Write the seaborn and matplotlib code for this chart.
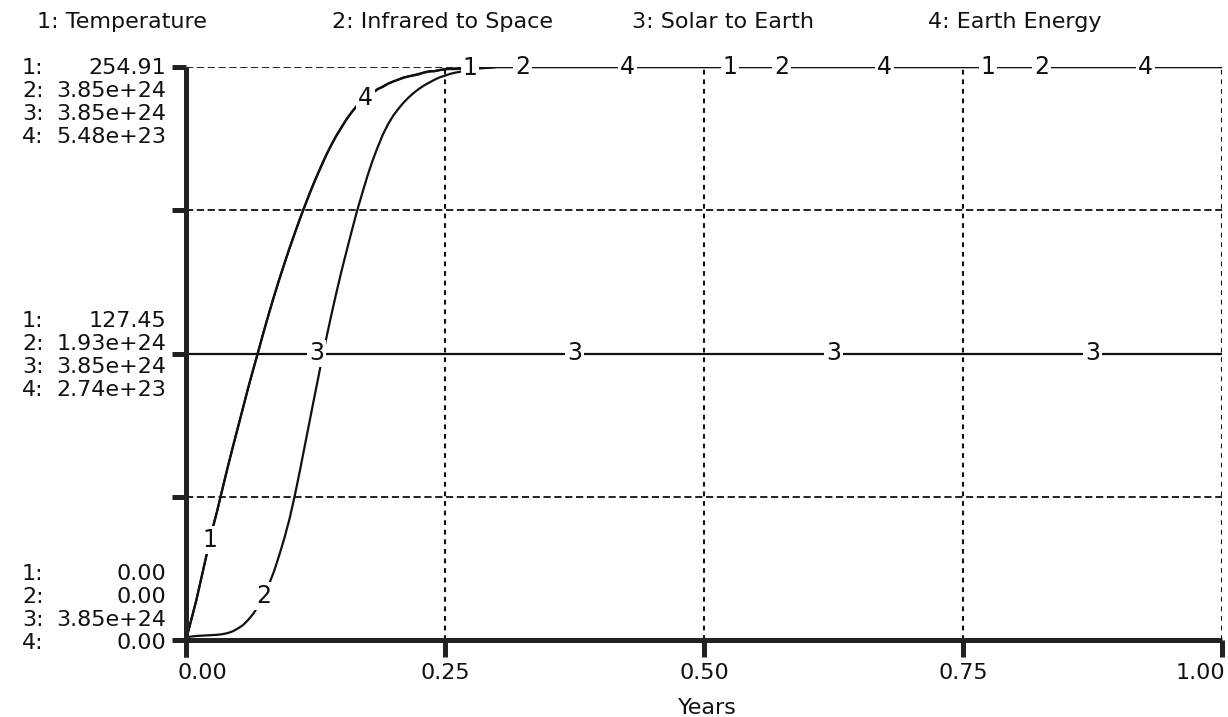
import numpy as np
import pandas as pd
import matplotlib.pyplot as plt
import seaborn as sns

# simulation output (time in years)
years = [0.000, 0.005, 0.010, 0.015, 0.020, 0.025, 0.030, 0.035, 0.040, 0.045,
         0.050, 0.055, 0.060, 0.065, 0.070, 0.075, 0.080, 0.085, 0.090, 0.095,
         0.100, 0.105, 0.110, 0.115, 0.120, 0.125, 0.130, 0.135, 0.140, 0.145,
         0.150, 0.155, 0.160, 0.165, 0.170, 0.175, 0.180, 0.185, 0.190, 0.195,
         0.200, 0.205, 0.210, 0.215, 0.220, 0.225, 0.230, 0.235, 0.240, 0.245,
         0.250, 0.255, 0.260, 0.280, 0.300, 0.500, 0.750, 1.000]
temperature = [0.0, 8.9, 17.8, 28.0, 38.2, 48.4, 57.4, 66.8, 76.5, 85.4,
               94.3, 103.2, 112.2, 120.6, 128.7, 137.1, 145.3, 152.9, 160.3, 167.5,
               174.4, 181.0, 187.4, 193.5, 199.3, 204.9, 210.3, 215.4, 220.0, 224.3,
               228.1, 231.7, 234.8, 237.6, 239.9, 241.9, 243.4, 245.0, 246.2, 247.5,
               248.5, 249.3, 250.1, 250.8, 251.3, 251.9, 252.4, 252.9, 253.1, 253.6,
               253.9, 254.1, 254.3, 254.7, 254.91, 254.91, 254.91, 254.91]
infrared_e24 = [0.019, 0.023, 0.027, 0.029, 0.031, 0.033, 0.035, 0.039, 0.046, 0.058,
                0.077, 0.100, 0.135, 0.177, 0.231, 0.296, 0.373, 0.462, 0.570, 0.685,
                0.816, 0.970, 1.140, 1.317, 1.494, 1.671, 1.844, 2.014, 2.175, 2.329,
                2.476, 2.614, 2.749, 2.880, 2.999, 3.115, 3.219, 3.311, 3.396, 3.465,
                3.523, 3.569, 3.611, 3.646, 3.677, 3.704, 3.727, 3.746, 3.765, 3.781,
                3.792, 3.804, 3.812, 3.838, 3.85, 3.85, 3.85, 3.85]
solar_e24 = [3.85] * len(years)
energy_e23 = [0.00, 0.19, 0.38, 0.60, 0.82, 1.04, 1.23, 1.44, 1.64, 1.84,
              2.03, 2.22, 2.41, 2.59, 2.77, 2.95, 3.12, 3.29, 3.45, 3.60,
              3.75, 3.89, 4.03, 4.16, 4.29, 4.41, 4.52, 4.63, 4.73, 4.82,
              4.90, 4.98, 5.05, 5.11, 5.16, 5.20, 5.23, 5.27, 5.29, 5.32,
              5.34, 5.36, 5.38, 5.39, 5.40, 5.41, 5.43, 5.44, 5.44, 5.45,
              5.46, 5.46, 5.46, 5.47, 5.48, 5.48, 5.48, 5.48]

names = ["Temperature", "Infrared to Space", "Solar to Earth", "Earth Energy"]
scale_min = [0.0, 0.0, 3.85e24, 0.0]
scale_max = [254.91, 3.85e24, 3.85e24, 5.48e23]
labels_top = ["254.91", "3.85e+24", "3.85e+24", "5.48e+23"]
labels_mid = ["127.45", "1.93e+24", "3.85e+24", "2.74e+23"]
labels_bot = ["0.00", "0.00", "3.85e+24", "0.00"]
xticks = [0.0, 0.25, 0.5, 0.75, 1.0]
xticklabels = ["0.00", "0.25", "0.50", "0.75", "1.00"]
# where the series numbers sit along each line
label_times = [[0.023, 0.274, 0.525, 0.774],
               [0.075, 0.325, 0.575, 0.826],
               [0.126, 0.375, 0.625, 0.875],
               [0.173, 0.426, 0.674, 0.926]]

series = [np.array(temperature), np.array(infrared_e24) * 1e24,
          np.array(solar_e24) * 1e24, np.array(energy_e23) * 1e23]

sns.set_style("white")
plt.rcParams["font.family"] = ["DejaVu Sans"]
W, H = 1228, 717
fig = plt.figure(figsize=(W / 100, H / 100), dpi=100)
x0, x1, y0, y1 = 186, 1222, 67, 640
ax = fig.add_axes([x0 / W, 1 - y1 / H, (x1 - x0) / W, (y1 - y0) / H])
ax.set_xlim(0, 1)
ax.set_ylim(0, 1)

ink = "#111111"
# grid
for yv in [0.25, 0.75, 1.0]:
    ax.axhline(yv, color=ink, lw=1.3, dashes=(4, 2), zorder=1)
for xv in [0.25, 0.5, 0.75, 1.0]:
    ax.axvline(xv, color=ink, lw=1.5, dashes=(2.3, 2.3), zorder=1)

rows = []
for i, (name, vals) in enumerate(zip(names, series)):
    span = scale_max[i] - scale_min[i]
    if span == 0:
        norm = np.full(len(vals), 0.5)
    else:
        norm = (vals - scale_min[i]) / span
    rows.append(pd.DataFrame({"Years": years, "y": norm, "series": name}))
df = pd.concat(rows, ignore_index=True)

for i, name in enumerate(names):
    d = df[df["series"] == name]
    sns.lineplot(data=d, x="Years", y="y", color=ink, lw=1.6, ax=ax, zorder=3,
                 estimator=None, sort=False)
    for t in label_times[i]:
        yv = np.interp(t, d["Years"], d["y"])
        ax.text(t, yv, str(i + 1), fontsize=17, ha="center", va="center", color=ink,
                zorder=4, bbox=dict(boxstyle="square,pad=0.08", fc="white", ec="none"))

# thick STELLA style axes
sns.despine(ax=ax, top=True, right=True, left=True, bottom=True)
ax.plot([0, 0], [-0.03, 1], color="#222222", lw=3.6, clip_on=False, zorder=5,
        solid_capstyle="butt")
ax.plot([0, 1], [0, 0], color="#222222", lw=3.6, clip_on=False, zorder=5,
        solid_capstyle="butt")
ax.set_yticks([0, 0.25, 0.5, 0.75, 1.0])
ax.set_yticklabels([])
ax.tick_params(axis="y", direction="out", length=10, width=3.6, color="#222222", left=True)
ax.set_xticks(xticks)
ax.set_xticklabels([])
ax.tick_params(axis="x", direction="out", length=12, width=3.6, color="#222222", bottom=True)
ax.set_xlabel("")
ax.set_ylabel("")

shift = [11.5, 0, 0, 0, -15.5]
for xv, lab, dx in zip(xticks, xticklabels, shift):
    ax.annotate(lab, xy=(xv, 0), xycoords=("data", "axes fraction"),
                xytext=(dx, -23.8), textcoords="offset points",
                ha="center", va="center", fontsize=16, color=ink)

fig.text(707 / W, 1 - 708 / H, "Years", ha="center", va="center", fontsize=16, color=ink)

# series legend across the top
for name, i, xl in zip(names, range(4), [37, 332, 632, 928]):
    fig.text(xl / W, 1 - 22 / H, f"{i + 1}: {name}", ha="left", va="center",
             fontsize=16, color=ink)

# per-series scale labels on the left
for labs, ys in [(labels_top, [68, 91, 114, 137]),
                 (labels_mid, [321, 344, 367, 390]),
                 (labels_bot, [574, 597, 620, 643])]:
    for i, (lab, yp) in enumerate(zip(labs, ys)):
        fig.text(22 / W, 1 - yp / H, f"{i + 1}:", ha="left", va="center",
                 fontsize=16, color=ink)
        fig.text(166 / W, 1 - yp / H, lab, ha="right", va="center",
                 fontsize=16, color=ink)

fig.savefig("out.png", dpi=100, facecolor="white")
